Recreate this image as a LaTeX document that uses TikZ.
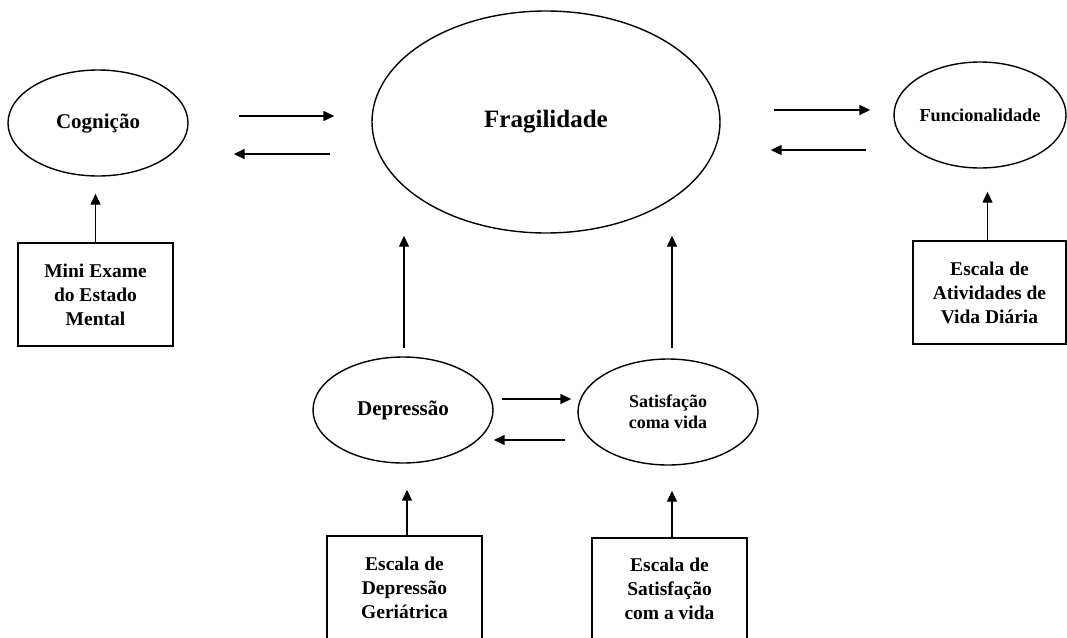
\documentclass[tikz,border=0pt]{standalone}
\usepackage{fontspec}
\setmainfont{Liberation Serif}
\usetikzlibrary{arrows.meta,calc,shapes.geometric}

\begin{document}
\begin{tikzpicture}[x=1pt,y=-1pt,line width=1.4pt,
  arr/.style={-{Triangle[length=11pt,width=10pt]}}]
  \tikzstyle{every node}=[font=\bfseries,align=center,inner sep=0pt]
  \tikzstyle{oval}=[ellipse,draw]
  \tikzstyle{scalebox}=[rectangle,draw,font=\bfseries\fontsize{19.5}{24}\selectfont]
  \path[use as bounding box,clip] (0,0) rectangle (1067,637);
  \node[oval,minimum width=348pt,minimum height=222pt,font=\bfseries\fontsize{25}{28}\selectfont] (frag) at (546,122) {Fragilidade};
  \node[oval,minimum width=180pt,minimum height=106pt,font=\bfseries\fontsize{21}{24}\selectfont] (cog) at (98,123) {Cognição};
  \node[oval,minimum width=172pt,minimum height=106pt,font=\bfseries\fontsize{18.3}{22}\selectfont] (func) at (980,115) {Funcionalidade};
  \node[oval,minimum width=180pt,minimum height=106pt,font=\bfseries\fontsize{21}{24}\selectfont] (dep) at (403,410) {Depressão};
  \node[oval,minimum width=180pt,minimum height=106pt,font=\bfseries\fontsize{18}{21}\selectfont] (sat) at (668,412) {Satisfação\\coma vida};
  \node[scalebox,minimum width=155pt,minimum height=103pt] (meem) at (95.5,294.5) {Mini Exame\\do Estado\\Mental};
  \node[scalebox,minimum width=153pt,minimum height=103pt] (avd) at (989.5,292.5) {Escala de\\Atividades de\\Vida Diária};
  \node[scalebox,minimum width=155pt,minimum height=104pt] (egd) at (404.5,588) {Escala de\\Depressão\\Geriátrica};
  \node[scalebox,minimum width=155pt,minimum height=102pt] (esv) at (669.5,589) {Escala de\\Satisfação\\com a vida};
  \draw[arr] ($(cog.east)+(50,-7)$) -- ($(cog.east -| frag.west)+(-37,-7)$);
  \draw[arr] ($(cog.east -| frag.west)+(-41,31)$) -- ($(cog.east)+(45,31)$);
  \draw[arr] ($(frag.east)+(53,-12)$) -- ($(frag.east -| func.west)+(-23,-12)$);
  \draw[arr] ($(frag.east -| func.west)+(-27,28)$) -- ($(frag.east)+(50,28)$);
  \draw[arr] ($(dep.east)+(8,-11)$) -- ($(dep.east -| sat.west)+(-6,-11)$);
  \draw[arr] ($(dep.east -| sat.west)+(-12,30)$) -- ($(dep.east)+(0,30)$);
  \draw[arr] ($(dep.north)+(1,-8)$) -- ($(dep.north |- frag.south)+(1,2)$);
  \draw[arr] ($(sat.north)+(4,-10)$) -- ($(sat.north |- frag.south)+(4,2)$);
  \draw[arr] (meem.north) -- ($(meem.north |- cog.south)+(0,17)$);
  \draw[arr] ($(avd.north)+(-2,0)$) -- ($(avd.north |- func.south)+(-2,23)$);
  \draw[arr] ($(egd.north)+(2.5,0)$) -- ($(egd.north |- dep.south)+(2.5,26)$);
  \draw[arr] ($(esv.north)+(2.5,0)$) -- ($(esv.north |- sat.south)+(2.5,25)$);
\end{tikzpicture}
\end{document}
